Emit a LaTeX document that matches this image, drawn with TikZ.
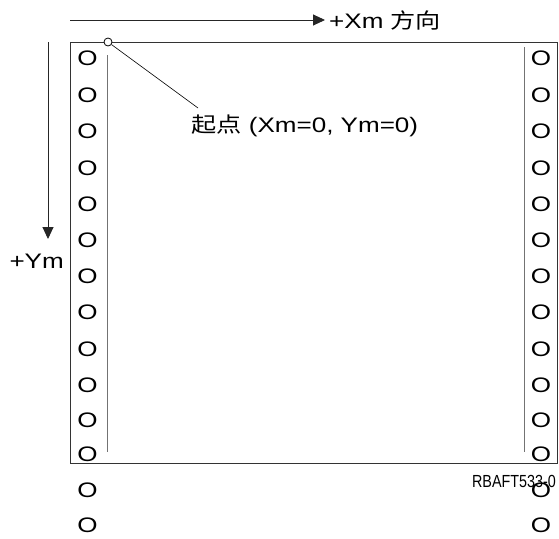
\documentclass[tikz,border=0pt]{standalone}
\usepackage{fontspec}
\setmainfont{Liberation Sans}
\newfontfamily\wide[FakeStretch=1.24]{Liberation Sans}
\newfontfamily\cjk[FakeStretch=1.2]{Noto Sans CJK SC}
\newfontfamily\narrow[FakeStretch=0.82]{Liberation Sans}
\usetikzlibrary{arrows.meta}
\begin{document}
\begin{tikzpicture}[x=1pt,y=-1pt,
  hole/.style={inner sep=0pt,font=\wide\fontsize{21}{21}\selectfont},
  lbl/.style={inner sep=0pt,font=\wide\fontsize{21}{21}\selectfont},
  axis/.style={line width=0.9pt,draw=black!85,-{Triangle[length=12pt,width=11pt]}},
  frame/.style={line width=1pt,draw=black!80},
  inner/.style={line width=1pt,draw=black!55}]
\useasboundingbox (0,0) rectangle (559,538);
\draw[frame] (70,42) rectangle (557,463);
\draw[inner] (107,55) -- (107,452);
\draw[inner] (524,47) -- (524,452);
\foreach \i/\y in {1/58,2/95,3/131,4/168,5/204,6/240,7/276,8/312,9/349,10/385,11/420,12/454,13/490,14/525}{
  \node[hole] (L\i) at (87.5,\y) {O};
  \node[hole] (R\i) at (541,\y) {O};
}
\node[draw,circle,inner sep=0pt,minimum size=8pt,line width=0.8pt,fill=white] (org) at (108,42) {};
\node[lbl,anchor=base west] (start) at (191,132) {{\cjk 起点} (Xm=0, Ym=0)};
\coordinate (lead) at (198,108);
\draw[line width=0.6pt] (org) -- (lead);
\coordinate (xs) at (70,20);
\coordinate (xe) at (325,20);
\draw[axis] (xs) -- (xe);
\node[lbl,anchor=base west] (xlab) at (329,28) {+Xm {\cjk 方向}};
\coordinate (ys) at (48,42);
\coordinate (ye) at (48,239);
\draw[axis] (ys) -- (ye);
\node[lbl,anchor=base east] (ylab) at (64,268) {+Ym};
\node[inner sep=0pt,anchor=base east,font=\narrow\fontsize{17.5}{17.5}\selectfont] (code) at (556,487) {RBAFT533-0};
\end{tikzpicture}
\end{document}
